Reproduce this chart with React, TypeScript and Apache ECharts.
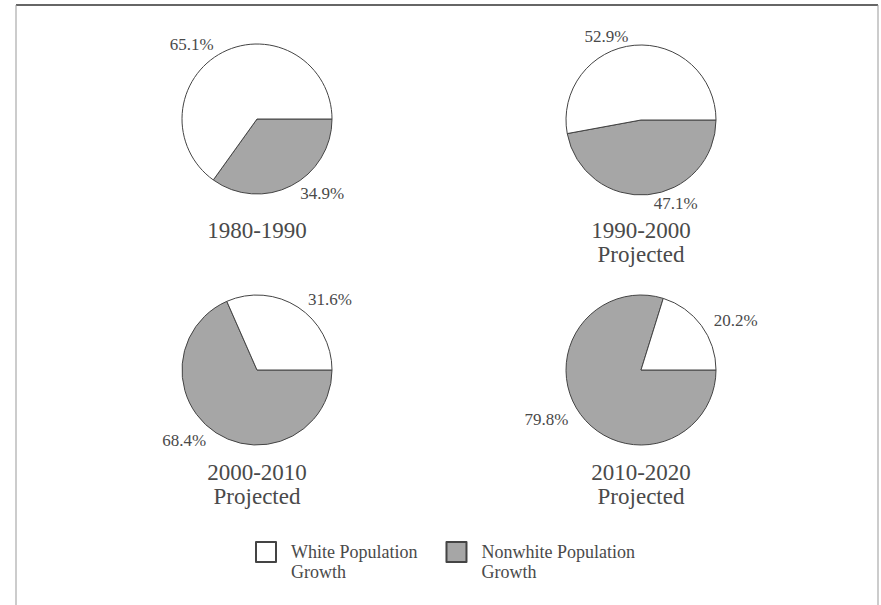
import React, { useEffect, useRef } from "react";
import * as echarts from "echarts";

const periods = ["1980-1990", "1990-2000", "2000-2010", "2010-2020"];
const projected = [false, true, true, true];
const whiteShare = [65.1, 52.9, 31.6, 20.2];
const nonwhiteShare = [34.9, 47.1, 68.4, 79.8];
const legendNames = ["White Population Growth", "Nonwhite Population Growth"];

const centers: [number, number][] = [
  [257, 119],
  [641, 120],
  [257, 370],
  [641, 370],
];
const titleTops = [218, 218, 460, 460];

const FONT = "'Liberation Serif', 'Times New Roman', serif";
const TEXT = "#4a4a4a";
const GRAY = "#a6a6a6";

export default function App() {
  const ref = useRef<HTMLDivElement>(null);
  useEffect(() => {
    if (!ref.current) return;
    const chart = echarts.init(ref.current, undefined, { renderer: "svg" });
    const series = periods.map((p, i) => ({
      type: "pie",
      name: p,
      center: centers[i],
      radius: 75,
      startAngle: 0,
      clockwise: true,
      avoidLabelOverlap: false,
      silent: true,
      emphasis: { disabled: true },
      itemStyle: { borderColor: "#444", borderWidth: 1 },
      label: {
        show: true,
        position: "outside",
        formatter: "{c}%",
        fontSize: 17,
        fontFamily: FONT,
        color: TEXT,
      },
      labelLine: { show: false, length: 9, length2: 0 },
      data: [
        { name: legendNames[1], value: nonwhiteShare[i], itemStyle: { color: GRAY } },
        { name: legendNames[0], value: whiteShare[i], itemStyle: { color: "#ffffff" } },
      ],
    }));
    const titles = periods.map((p, i) => ({
      type: "text",
      x: centers[i][0],
      y: titleTops[i],
      silent: true,
      style: {
        text: projected[i] ? p + "\nProjected" : p,
        align: "center",
        verticalAlign: "top",
        textAlign: "center",
        textVerticalAlign: "top",
        fontSize: 23,
        lineHeight: 24,
        fontFamily: FONT,
        fill: TEXT,
      },
    }));
    chart.setOption({
      animation: false,
      backgroundColor: "#ffffff",
      legend: {
        data: legendNames,
        left: 255,
        top: 522,
        padding: 0,
        orient: "horizontal",
        icon: "rect",
        itemWidth: 20,
        itemHeight: 20,
        itemGap: 28,
        selectedMode: false,
        formatter: (name: string) => "\n" + name.replace(" Growth", "\nGrowth"),
        textStyle: {
          fontSize: 18,
          lineHeight: 20,
          fontFamily: FONT,
          color: TEXT,
          padding: [0, 0, 0, 10],
        },
      },
      graphic: [
        { type: "line", silent: true, shape: { x1: 16, y1: 5, x2: 878, y2: 5 }, style: { stroke: "#333", lineWidth: 1.5 } },
        { type: "line", silent: true, shape: { x1: 16, y1: 5, x2: 16, y2: 605 }, style: { stroke: "#999", lineWidth: 1 } },
        { type: "line", silent: true, shape: { x1: 878, y1: 5, x2: 878, y2: 605 }, style: { stroke: "#999", lineWidth: 1 } },
        ...titles,
      ],
      series,
    });
    return () => chart.dispose();
  }, []);
  return (
    <div
      ref={ref}
      style={{ position: "absolute", left: 0, top: 0, width: 881, height: 605 }}
    />
  );
}
